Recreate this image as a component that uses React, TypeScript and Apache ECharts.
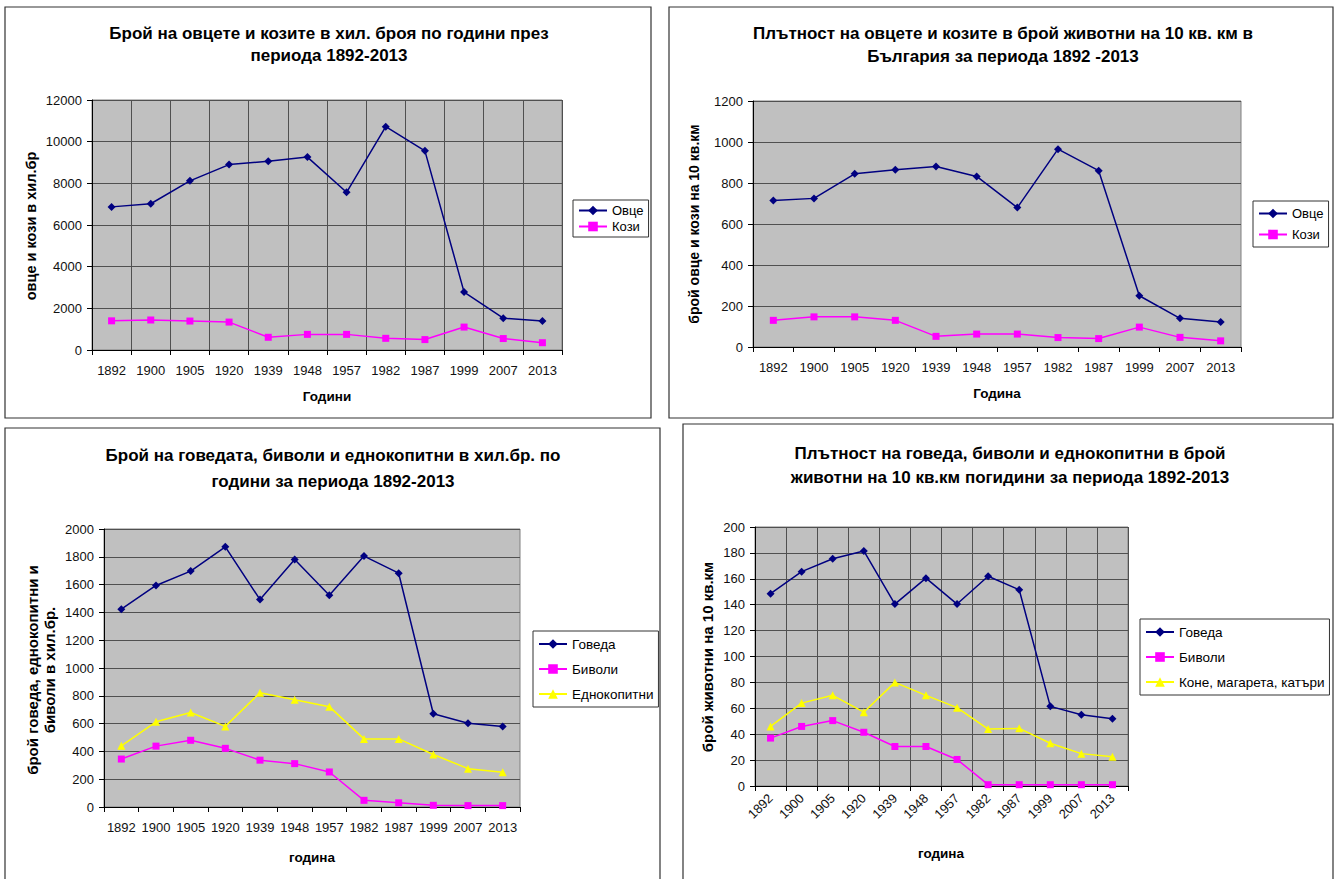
import React, { useEffect, useRef } from "react";
import * as echarts from "echarts";

const years = ["1892", "1900", "1905", "1920", "1939", "1948", "1957", "1982", "1987", "1999", "2007", "2013"];

// Chart 1: number of sheep and goats (thousands)
const sheepCount = [6870, 7020, 8120, 8900, 9060, 9260, 7570, 10720, 9560, 2780, 1530, 1390];
const goatCount = [1400, 1440, 1390, 1340, 610, 750, 750, 560, 500, 1100, 550, 350];

// Chart 2: density of sheep and goats per 10 sq km
const sheepDensity = [715, 725, 845, 865, 880, 832, 680, 965, 860, 250, 140, 122];
const goatDensity = [130, 147, 147, 130, 52, 63, 63, 46, 41, 97, 47, 30];

// Chart 3: cattle, buffaloes, equines (thousands)
const cattleCount = [1423, 1594, 1697, 1872, 1492, 1780, 1524, 1805, 1682, 671, 603, 580];
const buffaloCount = [345, 438, 480, 422, 337, 312, 252, 48, 30, 12, 10, 10];
const equineCount = [440, 613, 680, 580, 822, 772, 722, 490, 490, 378, 276, 250];

// Chart 4: density per 10 sq km
const cattleDensity = [148.5, 165.5, 175.5, 181.5, 140.5, 160.5, 140.5, 162, 151.5, 61.5, 55, 52];
const buffaloDensity = [37, 46, 50.5, 41.5, 30.5, 30.5, 20.5, 1, 1, 1, 1, 1];
const horseDensity = [46, 64, 70, 57, 80, 70, 60.5, 44, 44.5, 33, 25, 22.5];

const FONT = "'Liberation Sans', Arial, sans-serif";
const NAVY = "#000080";
const MAGENTA = "#FF00FF";
const YELLOW = "#FFFF00";

function grid(left: number, top: number, width: number, height: number) {
  return {
    left, top, width, height,
    show: true,
    backgroundColor: "#C0C0C0",
    borderColor: "#808080",
    borderWidth: 1,
    containLabel: false,
  };
}

function xAxis(gridIndex: number, vGrid: boolean, rotate: number, margin: number) {
  return {
    type: "category",
    gridIndex,
    data: years,
    boundaryGap: true,
    axisLine: { show: true, lineStyle: { color: "#000", width: 1 } },
    axisTick: { show: true, inside: false, length: 5, lineStyle: { color: "#000" }, alignWithLabel: false },
    axisLabel: { color: "#111", fontFamily: FONT, fontSize: 13, margin, rotate, interval: 0 },
    splitLine: { show: vGrid, interval: 0, lineStyle: { color: "#505050", width: 1 } },
  };
}

function yAxis(gridIndex: number, max: number, interval: number) {
  return {
    type: "value",
    gridIndex,
    min: 0,
    max,
    interval,
    axisLine: { show: true, lineStyle: { color: "#000", width: 1 } },
    axisTick: { show: true, inside: false, length: 5, lineStyle: { color: "#000" } },
    axisLabel: {
      color: "#111",
      fontFamily: FONT,
      fontSize: 13,
      margin: 10,
      formatter: (v: number) => String(v),
    },
    splitLine: { show: true, lineStyle: { color: "#505050", width: 1 } },
  };
}

function lineSeries(name: string, data: number[], idx: number, color: string, symbol: string, size: number) {
  return {
    type: "line",
    name,
    data,
    xAxisIndex: idx,
    yAxisIndex: idx,
    symbol,
    symbolSize: size,
    showAllSymbol: true,
    lineStyle: { color, width: 1.5 },
    itemStyle: { color, borderColor: color, borderWidth: 0 },
    emphasis: { disabled: true },
  };
}

function legend(names: string[], left: number, top: number, gap: number, pad: number[], fs: number) {
  return {
    data: names,
    orient: "vertical",
    left,
    top,
    itemGap: gap,
    itemWidth: 28,
    itemHeight: 12,
    padding: pad,
    backgroundColor: "#fff",
    borderColor: "#333",
    borderWidth: 1,
    selectedMode: false,
    textStyle: { color: "#000", fontFamily: FONT, fontSize: fs },
  };
}

function panel(x: number, y: number, w: number, h: number) {
  return {
    type: "rect",
    shape: { x, y, width: w, height: h },
    style: { fill: "#fff", stroke: "#333", lineWidth: 1.2 },
    z: -10,
    silent: true,
  };
}

function text(t: string, x: number, y: number, size: number, rot = 0, lh = 0) {
  return {
    type: "text",
    x,
    y,
    rotation: rot,
    silent: true,
    style: {
      text: t,
      fill: "#000",
      font: `bold ${size}px ${FONT}`,
      align: "center",
      verticalAlign: "middle",
      lineHeight: lh || size + 8,
    },
  };
}

export default function App() {
  const ref = useRef<HTMLDivElement>(null);
  useEffect(() => {
    if (!ref.current) return;
    const chart = echarts.init(ref.current, undefined, { renderer: "svg" });
    const R = Math.PI / 2;
    chart.setOption({
      animation: false,
      backgroundColor: "#fff",
      grid: [grid(92, 100, 470, 250), grid(753, 101, 488, 246), grid(104, 529, 416, 278), grid(755, 527, 373, 259)],
      xAxis: [xAxis(0, true, 0, 14), xAxis(1, false, 0, 14), xAxis(2, false, 0, 14), xAxis(3, true, 45, 10)],
      yAxis: [yAxis(0, 12000, 2000), yAxis(1, 1200, 200), yAxis(2, 2000, 200), yAxis(3, 200, 20)],
      legend: [
        legend(["Овце", "Кози"], 573, 200, 3, [4, 5], 13),
        legend(["Овце", "Кози"], 1253, 201, 8, [6, 5], 13),
        legend(["Говеда", "Биволи", "Еднокопитни"], 533, 631, 11, [6, 5], 13.5),
        legend(["Говеда", "Биволи", "Коне, магарета, катъри"], 1140, 619, 11, [6, 5], 13.5),
      ],
      series: [
        lineSeries("Овце", sheepCount, 0, NAVY, "diamond", 8),
        lineSeries("Кози", goatCount, 0, MAGENTA, "rect", 7),
        lineSeries("Овце", sheepDensity, 1, NAVY, "diamond", 8),
        lineSeries("Кози", goatDensity, 1, MAGENTA, "rect", 7),
        lineSeries("Говеда", cattleCount, 2, NAVY, "diamond", 8),
        lineSeries("Биволи", buffaloCount, 2, MAGENTA, "rect", 7),
        lineSeries("Еднокопитни", equineCount, 2, YELLOW, "triangle", 8),
        lineSeries("Говеда", cattleDensity, 3, NAVY, "diamond", 8),
        lineSeries("Биволи", buffaloDensity, 3, MAGENTA, "rect", 7),
        lineSeries("Коне, магарета, катъри", horseDensity, 3, YELLOW, "triangle", 8),
      ],
      graphic: [
        panel(5, 7, 646, 411),
        panel(669, 7, 664, 411),
        panel(5, 428, 655, 470),
        panel(683, 424, 650, 470),
        text("Брой на овцете и козите в хил. броя по години през\nпериода 1892-2013", 329, 44, 17, 0, 22),
        text("Плътност на овцете и козите в брой животни на 10 кв. км в\nБългария за периода 1892 -2013", 1003, 45, 17, 0, 23),
        text("Брой на говедата, биволи и еднокопитни в хил.бр. по\nгодини за периода 1892-2013", 333, 468, 17, 0, 26),
        text("Плътност на говеда, биволи и еднокопитни в брой\nживотни на 10 кв.км погидини за периода 1892-2013", 1010, 465, 17, 0, 24),
        text("Години", 327, 396, 13.5),
        text("Година", 997, 393, 13.5),
        text("година", 312, 857, 13.5),
        text("година", 941, 853, 13.5),
        text("овце и кози в хил.бр", 31, 226, 14.5, R),
        text("брой овце и кози на 10 кв.км", 694, 224, 14, R),
        text("брой говеда, еднокопитни и\nбиволи в хил.бр.", 41, 670, 15, R, 17),
        text("брой животни на 10 кв.км", 707, 657, 15, R),
      ],
    });
    return () => chart.dispose();
  }, []);
  return (
    <div
      ref={ref}
      style={{ position: "fixed", left: 0, top: 0, width: 1338, height: 879, background: "#fff" }}
    />
  );
}
